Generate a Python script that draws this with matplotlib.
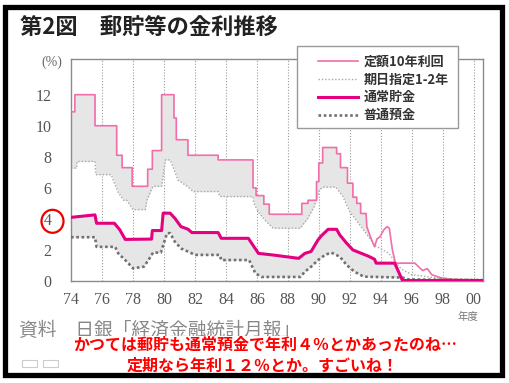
import numpy as np
import matplotlib
matplotlib.use("Agg")
import matplotlib.pyplot as plt
from matplotlib.patches import Rectangle, Ellipse

plt.rcParams['font.family'] = ['Noto Sans CJK JP', 'DejaVu Sans']
serif = ['Liberation Serif', 'DejaVu Serif']

# data (year 100 = 2000)
teigaku_x = [74.0, 74.25, 74.25, 75.55, 75.55, 76.95, 76.95, 77.3, 77.3, 77.95, 77.95, 78.95, 78.95,
             79.25, 79.25, 79.85, 79.85, 80.65, 80.65, 80.8, 80.8, 81.55, 81.55, 83.5, 83.5, 85.75,
             85.75, 85.95, 85.95, 86.45, 86.45, 86.8, 86.8, 88.9, 88.9, 89.3, 89.3, 89.85, 89.85, 90.0,
             90.0, 90.25, 90.25, 91.15, 91.15, 91.4, 91.4, 91.85, 91.85, 92.2, 92.2, 92.45, 92.45,
             92.7, 92.7, 93.05, 93.1, 93.35, 93.6, 93.75, 93.95, 94.2, 94.4, 94.55, 94.75, 94.95,
             96.2, 96.7, 97.0, 97.3, 97.9, 98.7, 100.6]
teigaku_y = [10.9, 10.9, 12.0, 12.0, 10.0, 10.0, 8.1, 8.1, 7.3, 7.3, 6.1, 6.1, 7.2,
             7.2, 8.4, 8.4, 12.0, 12.0, 10.5, 10.5, 9.1, 9.1, 8.1, 8.1, 7.8, 7.8,
             6.0, 6.0, 5.5, 5.5, 4.95, 4.95, 4.3, 4.3, 5.0, 5.0, 5.2, 5.2, 6.4, 6.4,
             7.6, 7.6, 8.6, 8.6, 8.2, 8.2, 7.3, 7.3, 6.3, 6.3, 5.4, 5.4, 5.0,
             5.0, 4.35, 4.35, 3.5, 2.8, 2.2, 2.7, 2.85, 3.3, 3.5, 3.4, 2.0, 1.15,
             1.15, 0.67, 0.8, 0.4, 0.2, 0.1, 0.06]

kijitsu_x = [74.0, 74.35, 74.4, 75.55, 75.6, 76.6, 76.8, 77.05, 77.4, 77.6, 78.0, 78.8, 78.9, 79.2,
             79.3, 79.85, 80.1, 80.4, 80.7, 80.9, 81.5, 81.9, 83.5, 83.6, 85.75, 85.8, 86.15, 86.5,
             87.05, 88.8, 89.3, 89.7, 90.05, 90.3, 91.1, 91.55, 92.0, 92.65, 93.2, 93.6, 94.5,
             95.3, 96.0, 98.0, 100.6]
kijitsu_y = [7.27, 7.27, 7.7, 7.7, 6.85, 6.85, 6.3, 5.7, 5.2, 5.2, 4.6, 4.6, 5.2, 5.9,
             6.1, 6.1, 7.8, 7.8, 7.05, 6.5, 6.1, 5.76, 5.76, 5.44, 5.44, 5.0, 4.36, 3.94,
             3.4, 3.4, 4.05, 4.8, 5.9, 6.05, 6.05, 5.44, 4.47, 3.6, 2.86, 2.3, 1.8,
             0.8, 0.4, 0.15, 0.1]

tsujo_x = [74.0, 75.55, 75.65, 76.8, 77.15, 77.5, 79.2, 79.25, 79.85, 79.95, 80.4, 80.7, 81.1, 81.55,
           81.8, 83.5, 83.7, 85.45, 86.1, 87.0, 88.7, 89.1, 89.5, 89.95, 90.15, 90.6, 91.15, 91.35,
           91.8, 92.2, 92.75, 93.2, 93.6, 93.7, 94.9, 95.4, 100.6]
tsujo_y = [4.1, 4.26, 3.72, 3.72, 3.3, 2.68, 2.7, 3.25, 3.25, 4.37, 4.37, 4.05, 3.5, 3.34,
           3.12, 3.12, 2.75, 2.75, 1.78, 1.68, 1.46, 1.78, 1.9, 2.65, 2.9, 3.33, 3.33, 2.97,
           2.43, 2.0, 1.78, 1.6, 1.4, 1.15, 1.15, 0.03, 0.03]

futsu_x = [74.0, 75.55, 75.65, 76.85, 77.05, 77.6, 78.0, 78.7, 79.0, 79.3, 79.8, 80.2, 80.4, 80.7,
           81.1, 81.8, 82.0, 83.6, 83.7, 85.5, 85.9, 86.3, 88.8, 89.1, 89.5, 89.95, 90.4, 90.8,
           91.35, 91.8, 92.3, 92.9, 95.4, 95.8, 100.6]
futsu_y = [2.82, 2.82, 2.2, 2.2, 1.78, 1.25, 0.82, 0.92, 1.35, 1.83, 1.83, 3.08, 3.08, 2.54,
           2.1, 1.78, 1.68, 1.68, 1.35, 1.35, 0.5, 0.26, 0.26, 0.6, 0.92, 1.35, 1.68, 1.83,
           1.57, 1.03, 0.6, 0.28, 0.22, 0.1, 0.05]

labels = ['定額10年利回', '期日指定1-2年', '通常貯金', '普通預金']
xticks = list(range(74, 101, 2))
xticklabels = ['%02d' % (t % 100) for t in xticks]
yticks = [0, 2, 4, 6, 8, 10, 12]

W, H = 510, 383
fig = plt.figure(figsize=(W / 100, H / 100), dpi=100)
ax = fig.add_axes([71 / W, 1 - 281 / H, 412 / W, 222 / H])

# shaded bands
g1 = np.linspace(74, 93.6, 4000)
ax.fill_between(g1, np.interp(g1, teigaku_x, teigaku_y), np.interp(g1, kijitsu_x, kijitsu_y),
                color='#e6e6e6', lw=0, zorder=1)
g2 = np.linspace(74, 95.4, 4000)
ax.fill_between(g2, np.interp(g2, tsujo_x, tsujo_y), np.interp(g2, futsu_x, futsu_y),
                color='#e6e6e6', lw=0, zorder=1)

for t in xticks[1:]:
    ax.axvline(t, color='#9a9a9a', lw=0.8, ls=(0, (1, 1.6)), zorder=0.5)

l1, = ax.plot(teigaku_x, teigaku_y, color='#f06ea9', lw=1.2, zorder=3)
l2, = ax.plot(kijitsu_x, kijitsu_y, color='#a8a8a8', lw=1.0, ls=(0, (1, 1.4)), zorder=2)
l3, = ax.plot(tsujo_x, tsujo_y, color='#e4007f', lw=2.2, zorder=4)
l4, = ax.plot(futsu_x, futsu_y, color='#707070', lw=1.9, ls=(0, (1, 1)), zorder=3)

ax.set_xlim(74, 100.6)
ax.set_ylim(0, 14.3)
ax.set_xticks(xticks)
ax.set_xticklabels(xticklabels, fontfamily=serif)
ax.set_yticks(yticks)
ax.set_yticklabels([str(v) for v in yticks], fontfamily=serif)
ax.tick_params(length=0, colors='#555555', labelsize=11.5)
ax.tick_params(axis='x', pad=8)
ax.tick_params(axis='y', pad=14)
for s in ax.spines.values():
    s.set_color('#8a8a8a')
    s.set_linewidth(1.0)

# legend box drawn over the top spine
fig.patches.append(Rectangle((297 / W, 1 - 128 / H), 161 / W, 82 / H, transform=fig.transFigure,
                             facecolor='white', edgecolor='#999999', lw=1.0, zorder=5))
leg = fig.legend([l1, l2, l3, l4], labels, loc='upper left', bbox_to_anchor=(311 / W, 1 - 48 / H),
                 frameon=False, borderpad=0, handlelength=3.1, handletextpad=0.45,
                 labelspacing=0.3, prop={'size': 9.4, 'weight': 'bold'})
leg.set_zorder(6)
for txt in leg.get_texts():
    txt.set_color('#333333')

# texts
fig.text(20 / W, 1 - 27 / H, '第2図　郵貯等の金利推移', fontsize=16, weight='bold',
         color='#222222', va='center', ha='left')
fig.text(52 / W, 1 - 62 / H, '(%)', fontsize=10, color='#666666', va='center', ha='center',
         family=serif)
fig.text(468 / W, 1 - 317 / H, '年度', fontsize=7.5, color='#777777', va='center', ha='center')
fig.text(19 / W, 1 - 330 / H, '資料　日銀「経済金融統計月報」', fontsize=13.5, color='#888888',
         va='center', ha='left')

fig.patches.append(Ellipse((52.5 / W, 1 - 221.3 / H), 22 / W, 23 / H, transform=fig.transFigure,
                           facecolor='none', edgecolor='#ee0000', lw=1.6, zorder=7))

fig.text(265 / W, 1 - 345 / H, 'かつては郵貯も通常預金で年利４％とかあったのね…', fontsize=11.5,
         weight='bold', color='#ff0000', va='center', ha='center', zorder=8,
         bbox=dict(facecolor='white', edgecolor='none', pad=1))
fig.text(263 / W, 1 - 366 / H, '定期なら年利１２％とか。すごいね！', fontsize=11.5,
         weight='bold', color='#ff0000', va='center', ha='center', zorder=8)

for x0 in (22, 43):
    fig.patches.append(Rectangle((x0 / W, 1 - 367 / H), 15 / W, 7 / H, transform=fig.transFigure,
                                 facecolor='white', edgecolor='#cccccc', lw=0.8, zorder=5))

# outer black frame
fig.patches.append(Rectangle((5.5 / W, 1 - 374.5 / H), 497 / W, 368 / H, transform=fig.transFigure,
                             facecolor='none', edgecolor='black', lw=3.8, zorder=9))

fig.savefig('out.png', dpi=100)
